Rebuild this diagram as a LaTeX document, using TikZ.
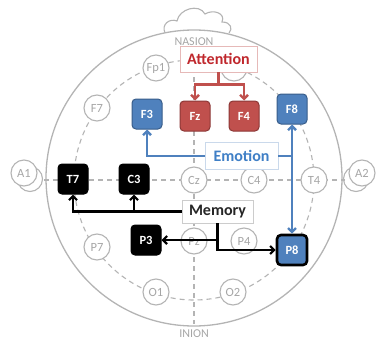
\documentclass[tikz,border=0pt]{standalone}
\usepackage{fontspec}
\setmainfont{Carlito}
\usetikzlibrary{arrows.meta}
\definecolor{elgray}{HTML}{B4B4B4}
\definecolor{txgray}{HTML}{A6A6A6}
\definecolor{rfill}{HTML}{C0504D}
\definecolor{rdraw}{HTML}{8C3836}
\definecolor{rtext}{HTML}{C0282D}
\definecolor{bfill}{HTML}{4F81BD}
\definecolor{bdraw}{HTML}{385D8A}
\definecolor{btext}{HTML}{3F7FC6}
\begin{document}
\begin{tikzpicture}[x=1pt,y=-1pt,
  elec/.style={circle,draw=elgray,fill=white,line width=1.1pt,minimum size=26pt,inner sep=0pt,
    text=txgray,font=\fontsize{12.5}{12.5}\selectfont},
  box/.style={rounded corners=4pt,minimum size=30pt,inner sep=0pt,line width=1pt,
    text=white,font=\bfseries\fontsize{12.5}{12.5}\selectfont},
  redbox/.style={box,fill=rfill,draw=rdraw},
  bluebox/.style={box,fill=bfill,draw=bdraw},
  blackbox/.style={box,fill=black,draw=black},
  tag/.style={fill=white,line width=0.8pt,inner sep=0pt,minimum height=26pt,
    font=\bfseries\fontsize{16}{16}\selectfont},
  guide/.style={draw=elgray,line width=1.1pt,dash pattern=on 5pt off 4pt},
  tip/.style={-{Straight Barb[length=4pt,width=8pt]}},
  redarrow/.style={draw=rfill,line width=2.4pt},
  bluearrow/.style={draw=bfill,line width=2.4pt},
  blackarrow/.style={draw=black,line width=2.2pt}]
\useasboundingbox (0,0) rectangle (377,345);

% nose
\path[draw=elgray,fill=white,line width=1.1pt]
  (165,33) .. controls (161,24) and (170,18) .. (177,21)
  .. controls (179,9) and (199,3) .. (205,14)
  .. controls (213,9) and (226,13) .. (222,22)
  .. controls (231,22) and (233,29) .. (229,33);
% ears (behind the head outline)
\draw[draw=elgray,fill=white,line width=1.1pt] (30,179) circle (12.5);
\draw[draw=elgray,fill=white,line width=1.1pt] (356,179) circle (12.5);
% head outline
\draw[draw=elgray,line width=1.3pt,fill=white] (194,178) circle (148);

% 10-20 guide lines
\draw[guide] (194,180) circle (120);
\draw[guide] (44,180) -- (345,180);
\draw[guide] (194,50) -- (194,324);

\node[text=txgray,font=\fontsize{12}{12}\selectfont] (nasion) at (194,42) {NASION};
\node[text=txgray,font=\fontsize{12}{12}\selectfont] (inion) at (194,334) {INION};

% passive electrodes
\node[elec] (A1) at (24,173) {A1};
\node[elec] (A2) at (362,173) {A2};
\node[elec] (Fp1) at (156,68) {Fp1};
\node[elec] (Fp2) at (234,68) {};
\node[elec] (F7) at (97,108) {F7};
\node[elec] (Cz) at (194,180) {Cz};
\node[elec] (C4) at (254,180) {C4};
\node[elec] (T4) at (314,180) {T4};
\node[elec] (P7) at (97,247) {P7};
\node[elec] (Pz) at (194,241) {Pz};
\node[elec] (P4) at (244,241) {P4};
\node[elec] (O1) at (156,292) {O1};
\node[elec] (O2) at (233,292) {O2};

% active electrodes
\node[bluebox] (F3) at (147,114) {F3};
\node[redbox] (Fz) at (195,116) {Fz};
\node[redbox] (F4) at (244,116) {F4};
\node[bluebox] (F8) at (292,109) {F8};
\node[blackbox] (T7) at (73,179) {T7};
\node[blackbox] (C3) at (134,179) {C3};
\node[blackbox] (P3) at (146,240) {P3};
\node[bluebox,draw=black,line width=2.6pt] (P8) at (292,250) {P8};

% function labels
\node[tag,draw=rfill!40,text=rtext,minimum width=77pt] (att) at (218.5,59) {Attention};
\node[tag,draw=bfill!30,text=btext,minimum width=73pt,minimum height=27pt] (emo) at (241.5,156) {Emotion};
\node[tag,draw=black!20,text=black!85,minimum width=71pt,minimum height=23pt] (mem) at (217.5,211.5) {Memory};

% attention -> frontal midline
\draw[redarrow] (att.south) -- ++(0,12) coordinate (ajoin);
\draw[redarrow,tip] (ajoin) -| (Fz.north);
\draw[redarrow,tip] (ajoin) -| (F4.north);

% emotion -> F3, F8, P8
\draw[bluearrow,tip] (emo.west) -| (F3.south);
\draw[bluearrow] (emo.east) -- (emo.east -| F8.south);
\draw[bluearrow,{Straight Barb[length=4pt,width=8pt]}-{Straight Barb[length=4pt,width=8pt]}] (F8.south) -- (P8.north);

% memory -> T7, C3, P3, P8
\draw[blackarrow,tip] (mem.west) -| (T7.south);
\draw[blackarrow,tip] (mem.west -| C3.south) -- (C3.south);
\draw[blackarrow,tip] (mem.south) |- (P8.west);
\draw[blackarrow,tip] (mem.south |- P3.east) -- (P3.east);
\end{tikzpicture}
\end{document}
